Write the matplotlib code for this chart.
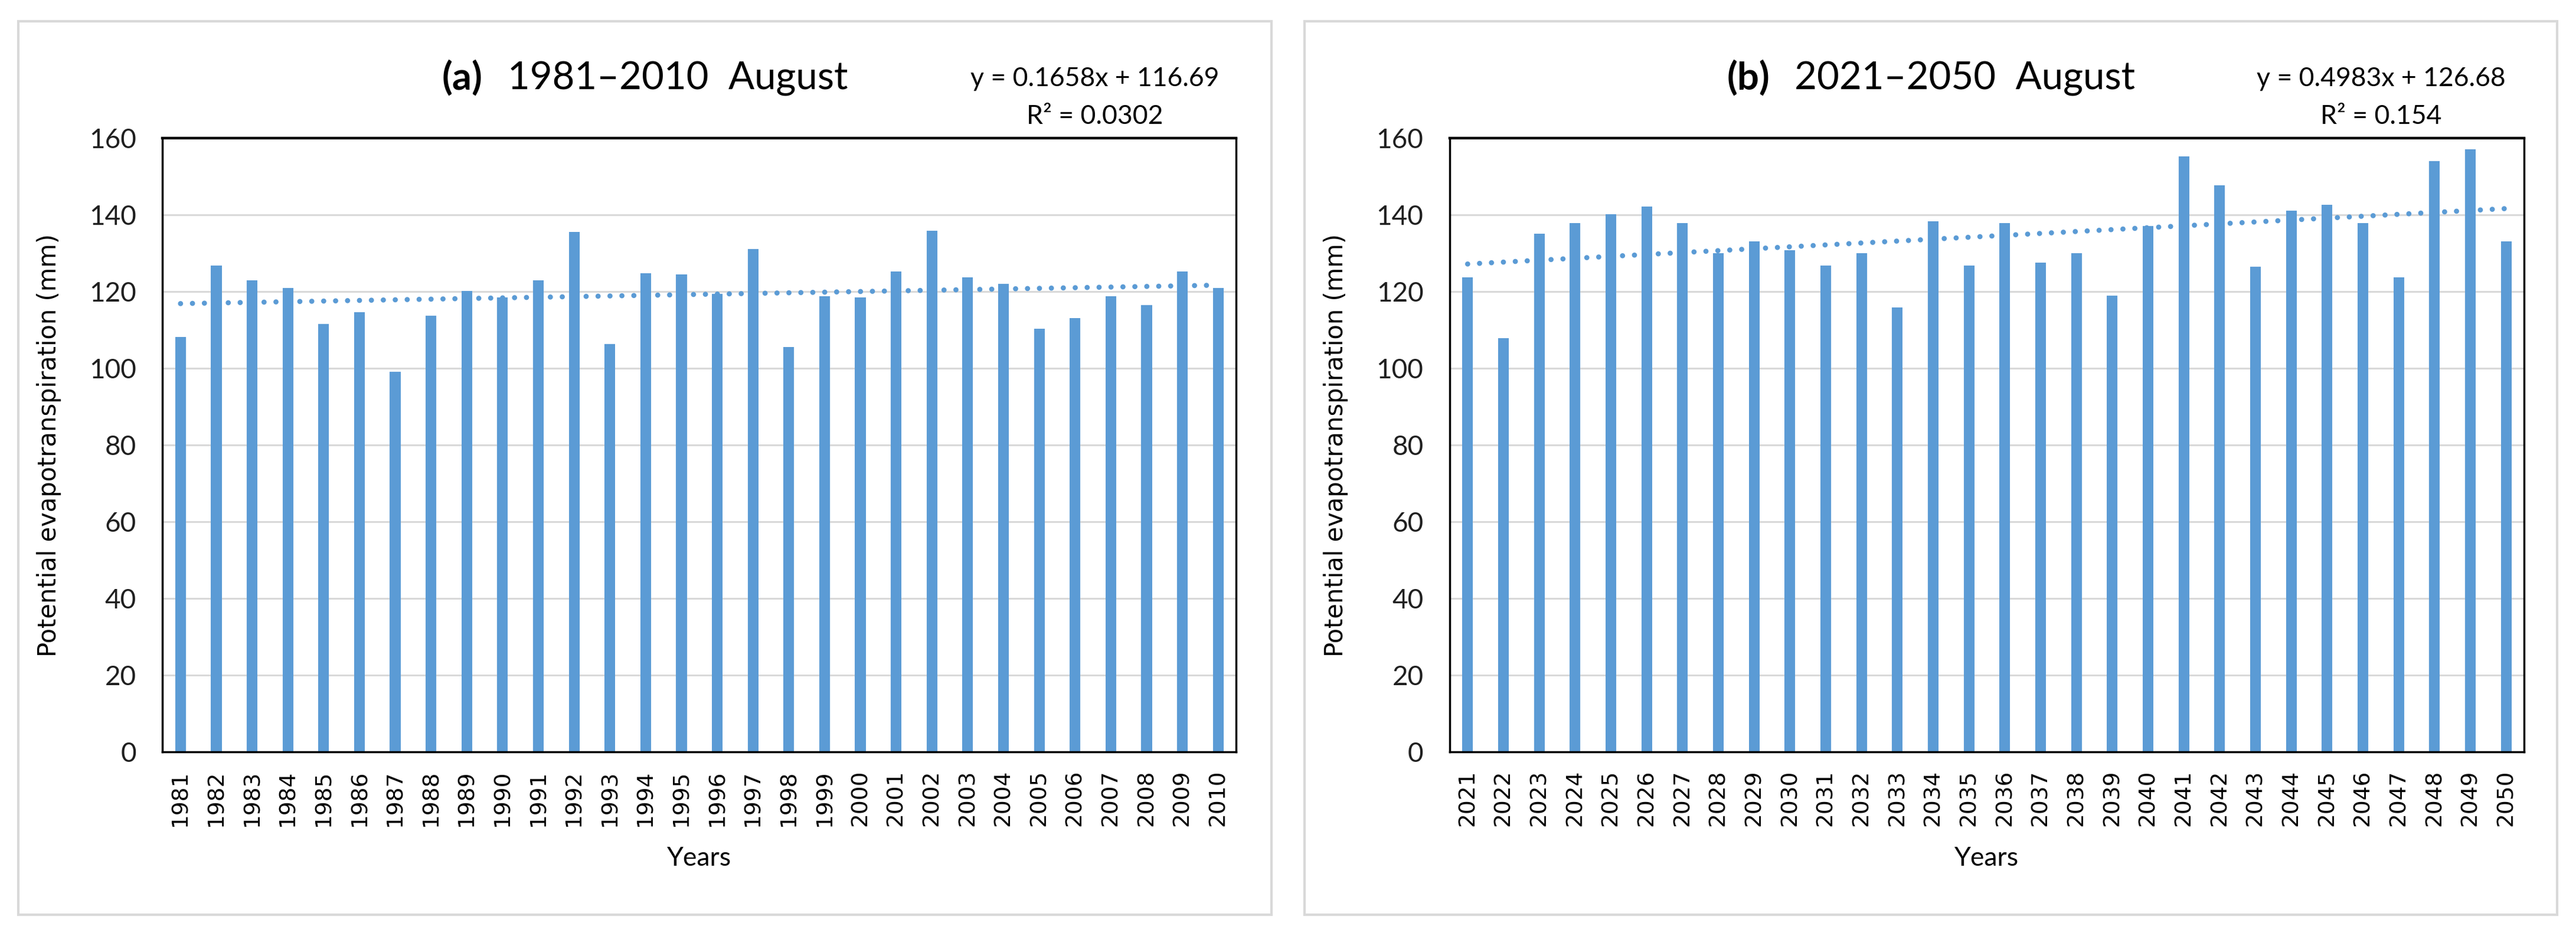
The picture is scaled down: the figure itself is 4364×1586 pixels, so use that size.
import numpy as np
import matplotlib.pyplot as plt
from matplotlib.patches import Rectangle
from matplotlib.offsetbox import TextArea, HPacker, AnnotationBbox

# values (mm)
years_a = list(range(1981, 2011))
pet_a = [108.2, 126.8, 122.9, 120.9, 111.5, 114.6, 99.1, 113.7, 120.2, 118.5,
         122.9, 135.5, 106.3, 124.8, 124.5, 119.4, 131.1, 105.5, 118.8, 118.5,
         125.2, 135.8, 123.7, 122.0, 110.3, 113.1, 118.8, 116.5, 125.2, 120.9]

years_b = list(range(2021, 2051))
pet_b = [123.7, 107.9, 135.1, 137.9, 140.2, 142.2, 137.9, 130.0, 133.1, 130.7,
         126.8, 130.0, 115.8, 138.3, 126.8, 137.9, 127.6, 130.0, 118.9, 137.1,
         155.2, 147.7, 126.4, 141.0, 142.6, 137.9, 123.7, 154.0, 157.1, 133.1]

# linear trend lines as printed on the chart
trend_a = (0.1658, 116.69, '0.0302')
trend_b = (0.4983, 126.68, '0.154')

BLUE = '#5B9BD5'
GRID = '#D9D9D9'


def draw_panel(fig, rect, box, years, values, trend, tag, period):
    slope, intercept, r2 = trend

    # light gray chart-area border
    fig.add_artist(Rectangle((box[0], box[1]), box[2] - box[0], box[3] - box[1],
                             transform=fig.transFigure, fill=False,
                             edgecolor=GRID, linewidth=3))

    ax = fig.add_axes(rect)
    x = np.arange(1, len(years) + 1)
    ax.set_axisbelow(True)
    ax.yaxis.grid(True, color=GRID, linewidth=2.2)
    ax.bar(x, values, width=0.3, color=BLUE, zorder=2)
    ax.plot(x, slope * x + intercept, color=BLUE, linewidth=6.3,
            linestyle=(0, (0.01, 2.3)), dash_capstyle='round', zorder=3)

    ax.set_xlim(0.5, len(years) + 0.5)
    ax.set_ylim(0, 160)
    ax.set_yticks(np.arange(0, 161, 20))
    ax.set_xticks(x)
    ax.set_xticklabels([str(y) for y in years], rotation=90, fontsize=27,
                       family='DejaVu Sans')
    ax.tick_params(axis='x', length=0, pad=22)
    ax.tick_params(axis='y', length=0, pad=32, labelsize=33)
    plt.setp(ax.get_yticklabels(), family='Lato', color='#202020')

    for side in ['left', 'right', 'bottom', 'top']:
        ax.spines[side].set_color('black')
        ax.spines[side].set_linewidth(2.5)
    ax.spines['top'].set_linewidth(3.2)

    ax.set_ylabel('Potential evapotranspiration (mm)', fontsize=30,
                  family='DejaVu Sans', va='center')
    ax.yaxis.set_label_coords(-0.106, 0.5)
    ax.set_xlabel('Years', fontsize=32, family='Lato', va='center')
    ax.xaxis.set_label_coords(0.5, -0.174)

    # title: bold tag + normal text, centred on the chart box
    cx = (box[0] + box[2]) / 2
    t1 = TextArea(tag, textprops=dict(fontsize=47, fontweight='bold', family='Lato'))
    t2 = TextArea(period + '  August', textprops=dict(fontsize=47, family='Lato'))
    pack = HPacker(children=[t1, t2], sep=30, align='baseline', pad=0)
    fig.add_artist(AnnotationBbox(pack, (cx, 0.9168), xycoords='figure fraction',
                                  frameon=False, box_alignment=(0.5, 0.5), pad=0))

    # trend equation
    ex = box[0] + 0.4251 - 0.0071
    fig.text(ex, 0.9161, 'y = %.4fx + %.2f' % (slope, intercept), fontsize=32,
             family='Lato', ha='center', va='center')
    fig.text(ex, 0.8752, 'R² = ' + r2, fontsize=32, family='Lato',
             ha='center', va='center')
    return ax


fig = plt.figure(figsize=(43.64, 15.86), dpi=100)

draw_panel(fig, [0.06313, 0.19672, 0.41671, 0.65574],
           (0.0071, 0.0227, 0.4936, 0.9773),
           years_a, pet_a, trend_a, '(a)', '1981–2010')
draw_panel(fig, [0.56278, 0.19672, 0.41705, 0.65574],
           (0.5064, 0.0227, 0.9927, 0.9773),
           years_b, pet_b, trend_b, '(b)', '2021–2050')

plt.savefig('out.png', dpi=100)
